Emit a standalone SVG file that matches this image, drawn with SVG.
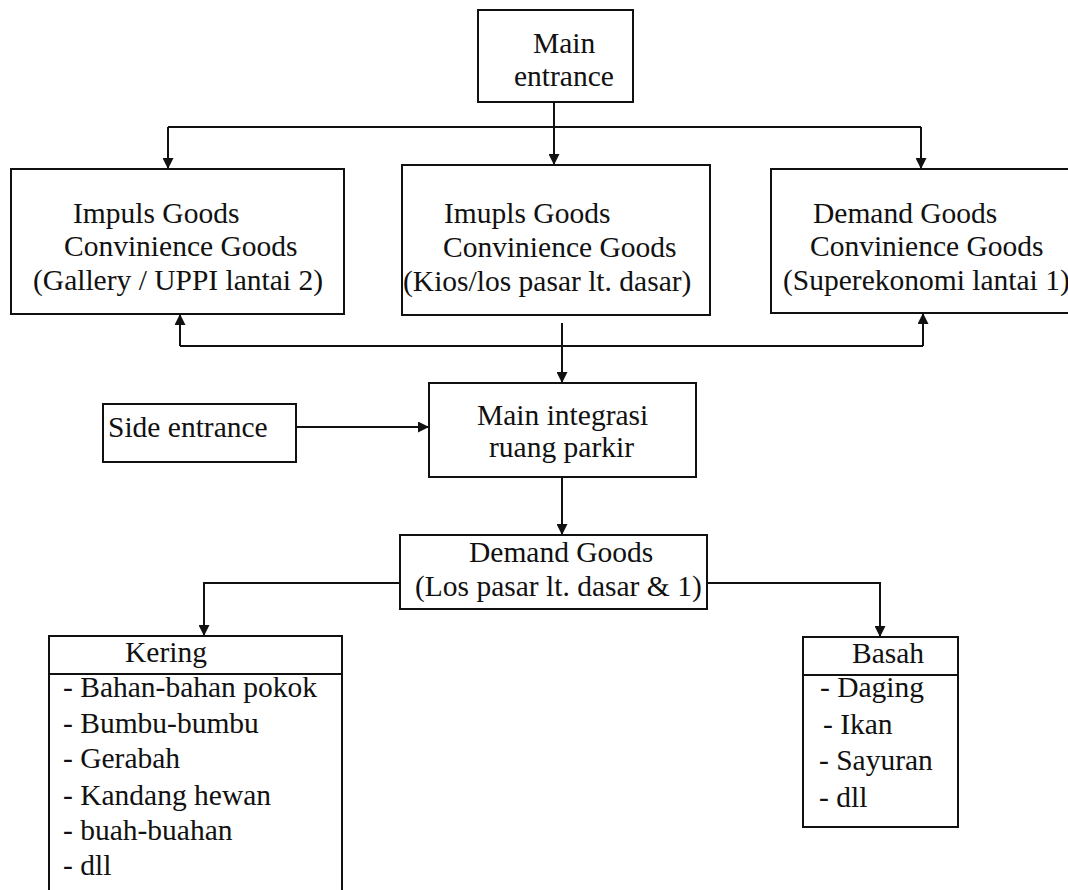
<svg xmlns="http://www.w3.org/2000/svg" width="1068" height="890" viewBox="0 0 1068 890">
  <style>
    .box { fill: #ffffff; stroke: #111111; stroke-width: 2; }
    .rule { stroke: #111111; stroke-width: 2; fill: none; }
    .wire { stroke: #111111; stroke-width: 2; fill: none; }
    .lbl { font-family: "Liberation Serif", "DejaVu Serif", serif; font-size: 29.5px; fill: #111111; }
  </style>
  <defs>
    <marker id="arrow" viewBox="0 0 10 10" refX="10" refY="5" markerWidth="5.5" markerHeight="5.5" orient="auto" markerUnits="strokeWidth">
      <path d="M0,0 L10,5 L0,10 z" fill="#111111"/>
    </marker>
  </defs>

  <rect width="1068" height="890" fill="#ffffff"/>

  <!-- connectors -->
  <g id="connectors">
    <!-- main entrance distribution bus -->
    <path class="wire" d="M554,102 V165" marker-end="url(#arrow)"/>
    <path class="wire" d="M168,127 H921"/>
    <path class="wire" d="M168,127 V169" marker-end="url(#arrow)"/>
    <path class="wire" d="M921,127 V169" marker-end="url(#arrow)"/>
    <!-- lower collection bus -->
    <path class="wire" d="M180,346 H923"/>
    <path class="wire" d="M180,346 V314" marker-end="url(#arrow)"/>
    <path class="wire" d="M923,346 V313" marker-end="url(#arrow)"/>
    <path class="wire" d="M562,323 V383" marker-end="url(#arrow)"/>
    <!-- side entrance -->
    <path class="wire" d="M296,427 H429" marker-end="url(#arrow)"/>
    <!-- parking to demand goods -->
    <path class="wire" d="M562,477 V535" marker-end="url(#arrow)"/>
    <!-- demand goods split -->
    <path class="wire" d="M400,583 H204 V636" marker-end="url(#arrow)"/>
    <path class="wire" d="M707,583 H880 V637" marker-end="url(#arrow)"/>
  </g>

  <g id="main-entrance" font-family="Liberation Serif, serif">
    <rect class="box" x="478" y="10" width="155" height="92"/>
    <text class="lbl" x="533" y="53">Main</text>
    <text class="lbl" x="514" y="86">entrance</text>
  </g>

  <g id="gallery">
    <rect class="box" x="11" y="169" width="333" height="145"/>
    <text class="lbl" x="73" y="223">Impuls Goods</text>
    <text class="lbl" x="64" y="256">Convinience Goods</text>
    <text class="lbl" x="33" y="290">(Gallery / UPPI lantai 2)</text>
  </g>

  <g id="kios">
    <rect class="box" x="402" y="165" width="308" height="150"/>
    <text class="lbl" x="444" y="223">Imupls Goods</text>
    <text class="lbl" x="443" y="257">Convinience Goods</text>
    <text class="lbl" x="403" y="291">(Kios/los pasar lt. dasar)</text>
  </g>

  <g id="superekonomi">
    <rect class="box" x="771" y="169" width="310" height="144"/>
    <text class="lbl" x="813" y="223">Demand Goods</text>
    <text class="lbl" x="810" y="256">Convinience Goods</text>
    <text class="lbl" x="783" y="290">(Superekonomi lantai 1)</text>
  </g>

  <g id="side-entrance">
    <rect class="box" x="103" y="404" width="193" height="58"/>
    <text class="lbl" x="108" y="437">Side entrance</text>
  </g>

  <g id="ruang-parkir">
    <rect class="box" x="429" y="383" width="267" height="94"/>
    <text class="lbl" x="477" y="425">Main integrasi</text>
    <text class="lbl" x="489" y="457">ruang parkir</text>
  </g>

  <g id="demand-goods">
    <rect class="box" x="400" y="535" width="307" height="74"/>
    <text class="lbl" x="469" y="562">Demand Goods</text>
    <text class="lbl" x="415" y="596">(Los pasar lt. dasar &amp; 1)</text>
  </g>

  <g id="kering">
    <rect class="box" x="49" y="636" width="293" height="270"/>
    <line class="rule" x1="49" y1="674" x2="342" y2="674"/>
    <text class="lbl" x="125" y="662">Kering</text>
    <text class="lbl" x="63" y="697">- Bahan-bahan pokok</text>
    <text class="lbl" x="63" y="733">- Bumbu-bumbu</text>
    <text class="lbl" x="63" y="768">- Gerabah</text>
    <text class="lbl" x="63" y="805">- Kandang hewan</text>
    <text class="lbl" x="63" y="840">- buah-buahan</text>
    <text class="lbl" x="63" y="875">- dll</text>
  </g>

  <g id="basah">
    <rect class="box" x="803" y="637" width="155" height="190"/>
    <line class="rule" x1="803" y1="675" x2="958" y2="675"/>
    <text class="lbl" x="852" y="663">Basah</text>
    <text class="lbl" x="820" y="697">- Daging</text>
    <text class="lbl" x="823" y="734">- Ikan</text>
    <text class="lbl" x="819" y="770">- Sayuran</text>
    <text class="lbl" x="819" y="807">- dll</text>
  </g>
</svg>
